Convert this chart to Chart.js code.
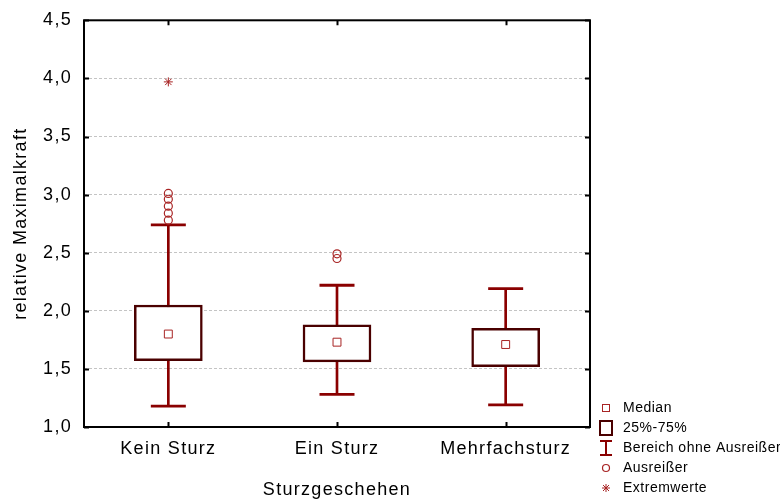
<!DOCTYPE html>
<html lang="de">
<head>
<meta charset="UTF-8">
<title>relative Maximalkraft nach Sturzgeschehen</title>
<script src="https://cdn.jsdelivr.net/npm/chart.js@4.4.1/dist/chart.umd.min.js"></script>
<style>
    html, body { margin: 0; padding: 0; background: #fff; }
    #wrap { position: relative; width: 780px; height: 499px; }
</style>
</head>
<body>
<div id="wrap"><canvas id="boxChart"></canvas></div>
<script>
// Werte
const categories = ['Kein Sturz', 'Ein Sturz', 'Mehrfachsturz'];
const whiskerLow = [1.18, 1.28, 1.19];
const q1 = [1.57, 1.56, 1.52];
const median = [1.80, 1.73, 1.71];
const q3 = [2.05, 1.88, 1.85];
const whiskerHigh = [2.74, 2.22, 2.19];
const outliers = [[2.78, 2.84, 2.90, 2.96, 3.01], [2.45, 2.49], []];
const extremes = [[3.97], [], []];
const yMin = 1.0, yMax = 4.5, yStep = 0.5;
const legendText = ['Median', '25%-75%', 'Bereich ohne Ausreißer', 'Ausreißer', 'Extremwerte'];

const RED = '#8a0000';
const DARK = '#4a0000';
const MARK = '#a82424';
const AXIS_SPACING = '1.3px';
const LEGEND_SPACING = '0.5px';

Chart.defaults.font.family = "'Liberation Sans', Arial, sans-serif";
Chart.defaults.color = '#000';

function toPoints(groups) {
    const pts = [];
    groups.forEach((vals, i) => vals.forEach(v => pts.push({ x: categories[i], y: v })));
    return pts;
}

function symbol(w, h, draw) {
    const c = document.createElement('canvas');
    c.width = w; c.height = h;
    const g = c.getContext('2d');
    draw(g);
    return c;
}

const legendSymbols = [
    symbol(10, 10, g => { g.strokeStyle = MARK; g.lineWidth = 1; g.strokeRect(1.5, 1.5, 7, 7); }),
    symbol(16, 18, g => { g.strokeStyle = DARK; g.lineWidth = 2; g.strokeRect(2, 2, 12, 14); }),
    symbol(14, 18, g => {
        g.strokeStyle = RED; g.lineWidth = 2; g.beginPath();
        g.moveTo(1, 2); g.lineTo(13, 2); g.moveTo(7, 2); g.lineTo(7, 16); g.moveTo(1, 16); g.lineTo(13, 16);
        g.stroke();
    }),
    symbol(10, 10, g => { g.strokeStyle = MARK; g.lineWidth = 1.2; g.beginPath(); g.arc(5, 5, 3.5, 0, Math.PI * 2); g.stroke(); }),
    symbol(10, 10, g => {
        g.strokeStyle = MARK; g.lineWidth = 1; g.beginPath();
        g.moveTo(5, 1); g.lineTo(5, 9); g.moveTo(1, 5); g.lineTo(9, 5);
        g.moveTo(2, 2); g.lineTo(8, 8); g.moveTo(8, 2); g.lineTo(2, 8);
        g.stroke();
    })
];

// Rahmen mit Innen-Ticks wie im Original
const framePlugin = {
    id: 'frame',
    afterInit(chart) {
        const lg = chart.legend;
        const fit = lg.fit, draw = lg.draw;
        lg.fit = function () { fit.call(this); this.width = 190; };
        lg.draw = function () {
            const ctx = this.ctx;
            ctx.save();
            ctx.letterSpacing = LEGEND_SPACING;
            ctx.translate(0, 2);
            draw.call(this);
            ctx.restore();
        };
    },
    beforeUpdate(chart) { chart.ctx.letterSpacing = AXIS_SPACING; },
    beforeDraw(chart) { chart.ctx.letterSpacing = AXIS_SPACING; },
    afterDraw(chart) {
        const { ctx, chartArea: a, scales } = chart;
        ctx.save();
        ctx.strokeStyle = '#000';
        ctx.lineWidth = 2;
        ctx.strokeRect(a.left, a.top, a.right - a.left, a.bottom - a.top);
        ctx.beginPath();
        scales.y.ticks.forEach(t => {
            const y = Math.round(scales.y.getPixelForValue(t.value)) + 0.5;
            ctx.moveTo(a.left, y); ctx.lineTo(a.left + 5, y);
            ctx.moveTo(a.right, y); ctx.lineTo(a.right - 5, y);
        });
        categories.forEach((c, i) => {
            const x = Math.round(scales.x.getPixelForTick(i)) + 0.5;
            ctx.moveTo(x, a.top); ctx.lineTo(x, a.top + 5);
            ctx.moveTo(x, a.bottom); ctx.lineTo(x, a.bottom - 5);
        });
        ctx.stroke();
        ctx.restore();
    }
};

new Chart(document.getElementById('boxChart'), {
    type: 'bar',
    data: {
        labels: categories,
        datasets: [
            {
                label: 'Whisker',
                data: whiskerLow.map((v, i) => [v, whiskerHigh[i]]),
                backgroundColor: RED,
                barThickness: 2,
                grouped: false,
                order: 5
            },
            {
                label: 'Whisker oben',
                type: 'line',
                data: whiskerHigh,
                showLine: false,
                pointStyle: 'line',
                pointRadius: 17.5,
                pointHoverRadius: 17.5,
                pointBorderWidth: 2.8,
                pointBorderColor: RED,
                order: 4
            },
            {
                label: 'Whisker unten',
                type: 'line',
                data: whiskerLow,
                showLine: false,
                pointStyle: 'line',
                pointRadius: 17.5,
                pointHoverRadius: 17.5,
                pointBorderWidth: 2.8,
                pointBorderColor: RED,
                order: 4
            },
            {
                label: '25%-75%',
                data: q1.map((v, i) => [v, q3[i]]),
                backgroundColor: '#fff',
                borderColor: DARK,
                borderWidth: 2.5,
                borderSkipped: false,
                barThickness: 68,
                grouped: false,
                order: 3
            },
            {
                label: 'Median',
                type: 'line',
                data: median,
                showLine: false,
                pointStyle: 'rect',
                pointRadius: 5.6,
                pointHoverRadius: 5.6,
                pointBorderWidth: 1,
                pointBorderColor: MARK,
                pointBackgroundColor: '#fff',
                order: 1
            },
            {
                label: 'Ausreißer',
                type: 'line',
                data: toPoints(outliers),
                showLine: false,
                pointStyle: 'circle',
                pointRadius: 4,
                pointHoverRadius: 4,
                pointBorderWidth: 1.2,
                pointBorderColor: MARK,
                pointBackgroundColor: 'rgba(255,255,255,0)',
                order: 1
            },
            {
                label: 'Extremwerte',
                type: 'line',
                data: toPoints(extremes),
                showLine: false,
                pointStyle: 'star',
                pointRadius: 4.5,
                pointHoverRadius: 4.5,
                pointBorderWidth: 1,
                pointBorderColor: MARK,
                order: 1
            }
        ]
    },
    options: {
        responsive: true,
        maintainAspectRatio: false,
        animation: false,
        layout: { padding: { top: 20, right: 0, bottom: 0, left: 0 } },
        plugins: {
            tooltip: { enabled: false },
            legend: {
                position: 'right',
                align: 'end',
                onClick: null,
                labels: {
                    font: { size: 14 },
                    usePointStyle: true,
                    pointStyleWidth: 20,
                    boxHeight: 14,
                    padding: 6,
                    generateLabels: () => legendText.map((t, i) => ({
                        text: t,
                        pointStyle: legendSymbols[i],
                        fillStyle: 'transparent',
                        strokeStyle: 'transparent',
                        lineWidth: 0,
                        hidden: false,
                        datasetIndex: i
                    }))
                }
            }
        },
        scales: {
            x: {
                grid: { display: false },
                border: { display: false },
                ticks: { font: { size: 18 }, padding: 3, maxRotation: 0 },
                title: { display: true, text: 'Sturzgeschehen', font: { size: 18 }, padding: { top: 0, bottom: -2 } },
                afterFit(scale) { scale.height = 72; }
            },
            y: {
                min: yMin,
                max: yMax,
                grid: { color: '#c4c4c4', lineWidth: 1, drawTicks: false },
                border: { display: false, dash: [3, 2] },
                ticks: {
                    stepSize: yStep,
                    font: { size: 18 },
                    padding: 12,
                    callback: v => Number(v).toFixed(1).replace('.', ',')
                },
                title: { display: true, text: 'relative Maximalkraft', font: { size: 18 }, padding: { top: 10, bottom: 0 } },
                afterFit(scale) { scale.width = 84; scale.paddingTop = 0; scale.paddingBottom = 0; }
            }
        }
    },
    plugins: [framePlugin]
});
</script>
</body>
</html>
